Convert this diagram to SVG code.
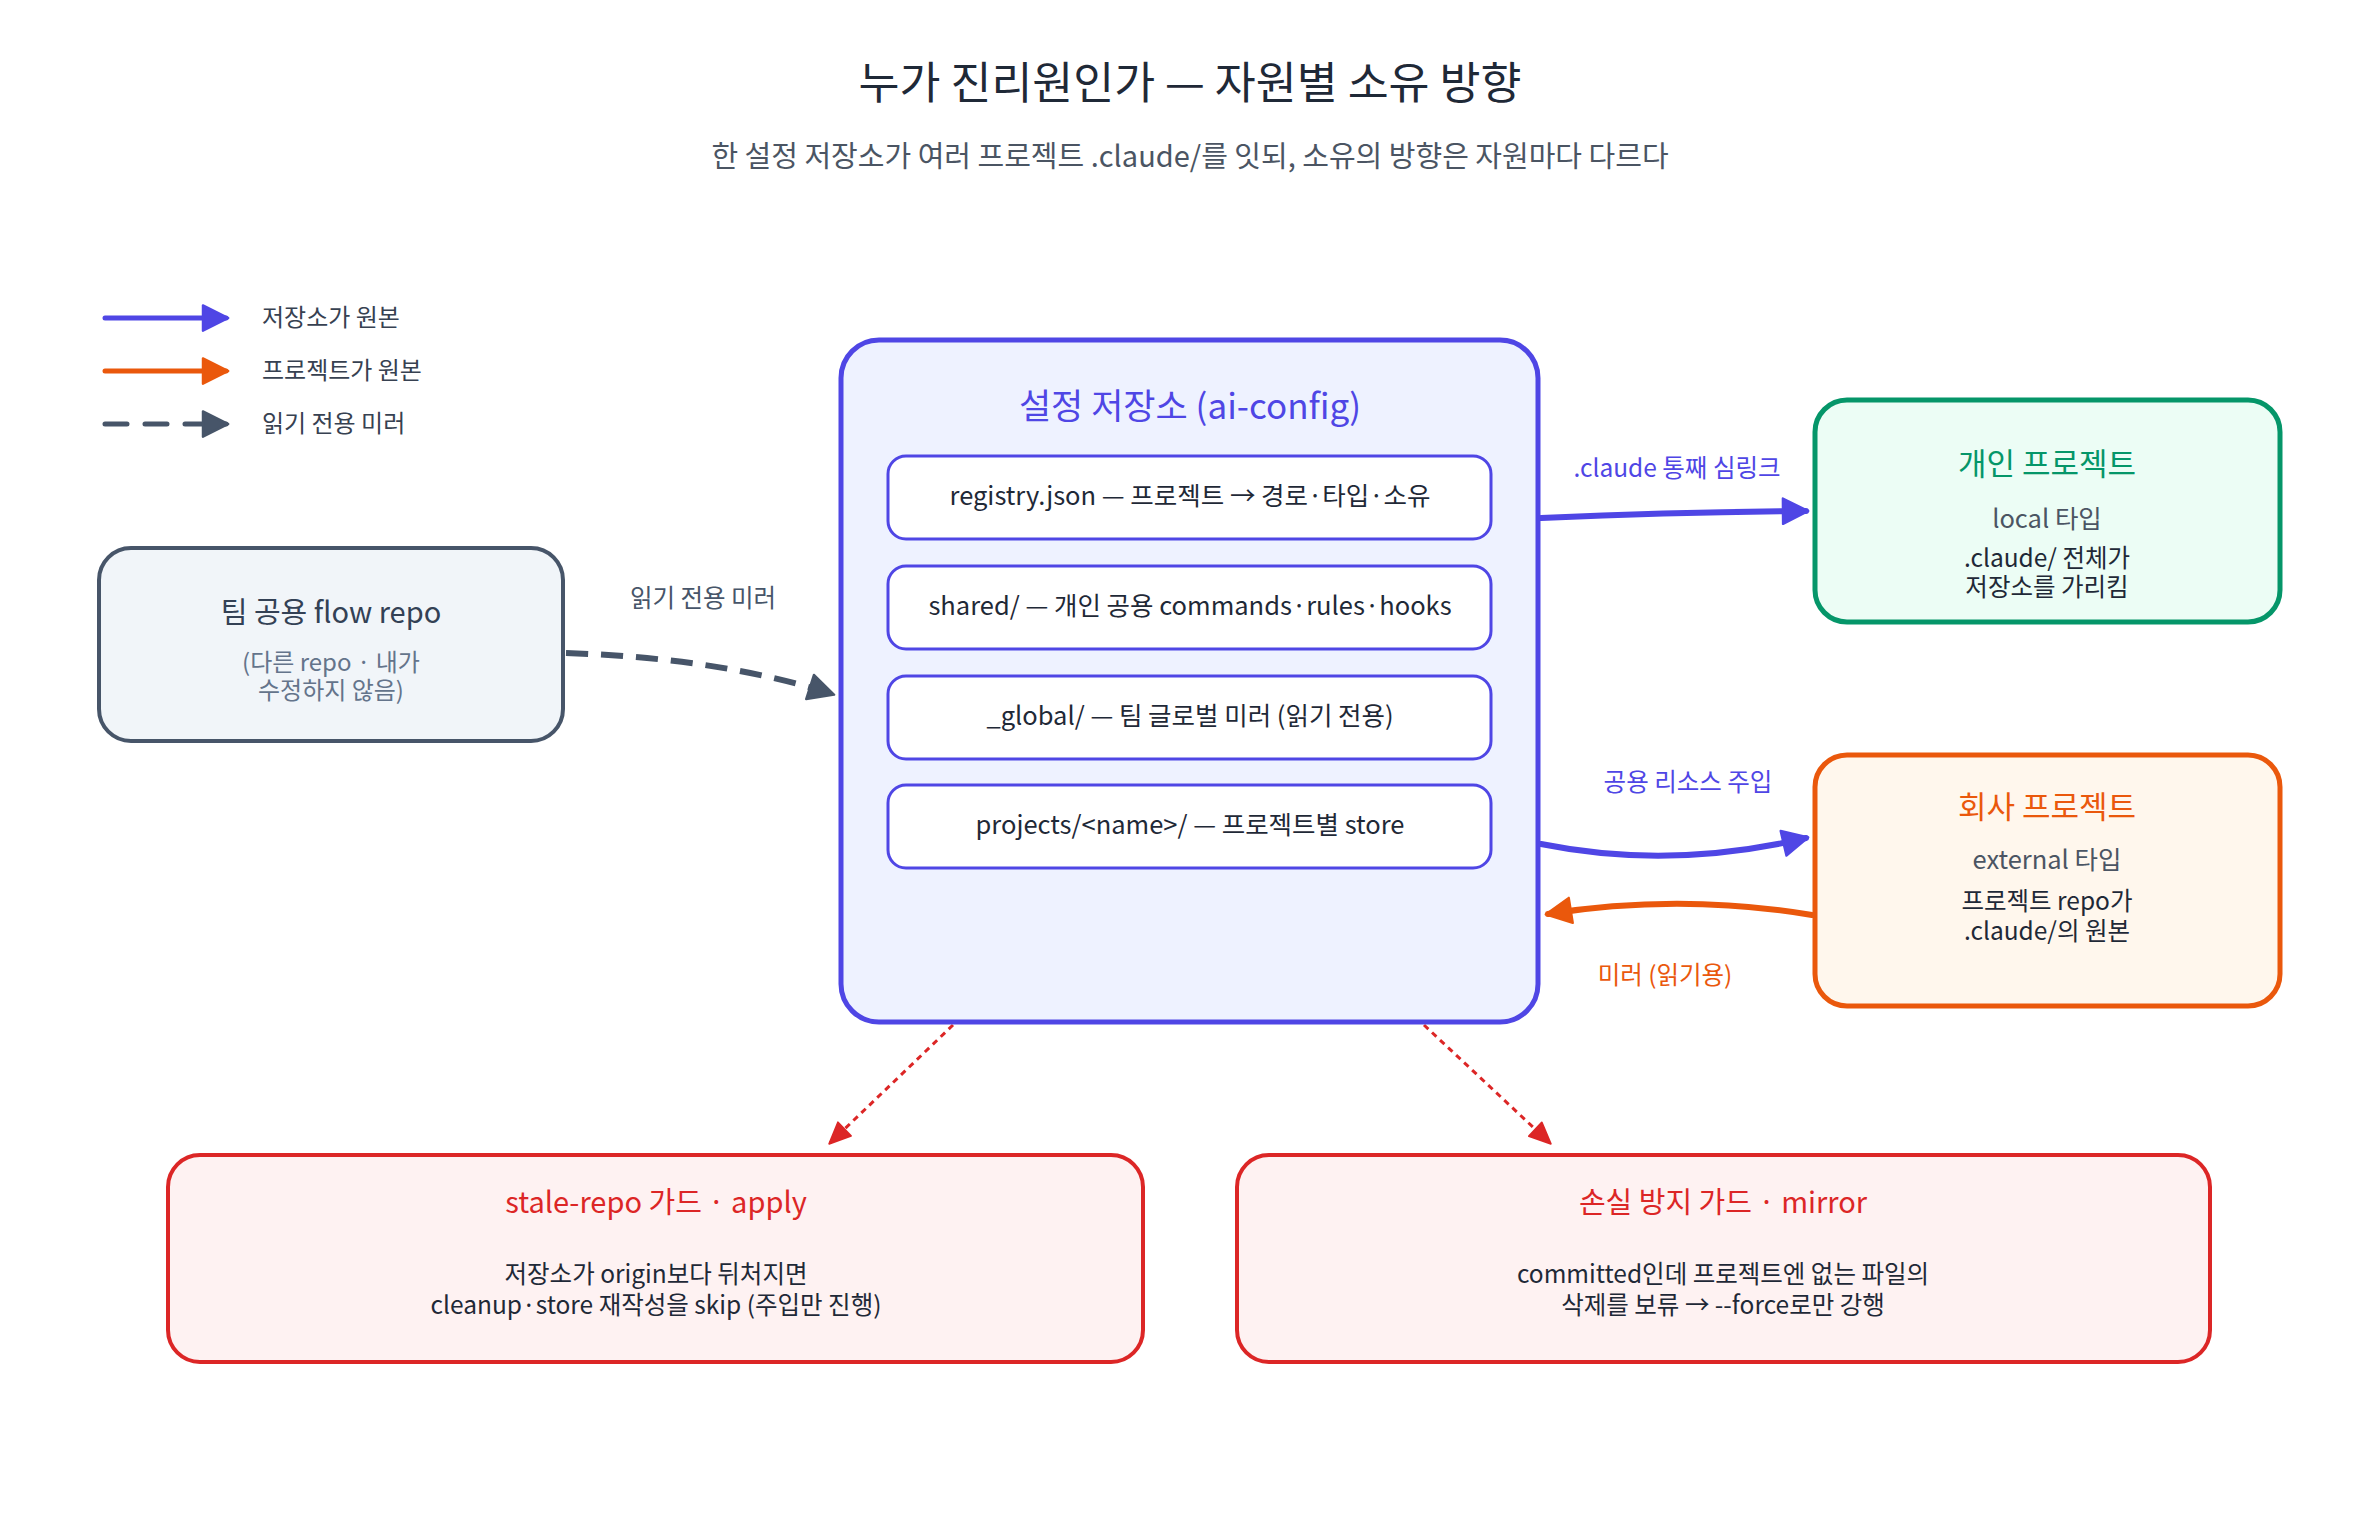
<svg xmlns="http://www.w3.org/2000/svg" width="2380" height="1540" viewBox="0 0 2380 1540">
<style>
text{font-family:"Noto Sans CJK KR","Noto Sans",sans-serif;text-anchor:middle}
.title{font-size:44.5px;fill:#1f2937;font-weight:400}
.sub{font-size:29px;fill:#4b5563}
.leg{font-size:24px;fill:#374151;text-anchor:start}
.ntitle{font-size:31px}
.body{font-size:24.5px;fill:#1f2937}
.gray{font-size:25.5px;fill:#4b5563}
.item{font-size:25.5px;fill:#1f2937}
.elab{font-size:24.5px}
</style>
<defs>
<marker id="ah-blue" markerUnits="userSpaceOnUse" markerWidth="30" markerHeight="30" viewBox="0 0 26 26" refX="22" refY="13" orient="auto"><path d="M2,2 L24,13 L2,24 z" fill="#4f46e5" stroke="#4f46e5" stroke-width="2" stroke-linejoin="round"/></marker>
<marker id="ah-orange" markerUnits="userSpaceOnUse" markerWidth="30" markerHeight="30" viewBox="0 0 26 26" refX="22" refY="13" orient="auto"><path d="M2,2 L24,13 L2,24 z" fill="#ea580c" stroke="#ea580c" stroke-width="2" stroke-linejoin="round"/></marker>
<marker id="ah-slate" markerUnits="userSpaceOnUse" markerWidth="30" markerHeight="30" viewBox="0 0 26 26" refX="22" refY="13" orient="auto"><path d="M2,2 L24,13 L2,24 z" fill="#475569" stroke="#475569" stroke-width="2" stroke-linejoin="round"/></marker>
<marker id="ah-red" markerUnits="userSpaceOnUse" markerWidth="26" markerHeight="26" viewBox="0 0 22 22" refX="19" refY="11" orient="auto"><path d="M2,3 L20,11 L2,19 z" fill="#dc2626" stroke="#dc2626" stroke-width="1.5" stroke-linejoin="round"/></marker>
</defs>
<rect width="2380" height="1540" fill="#ffffff"/>
<text class="title" x="1190" y="99">누가 진리원인가 — 자원별 소유 방향</text>
<text class="sub" x="1190" y="167">한 설정 저장소가 여러 프로젝트 .claude/를 잇되, 소유의 방향은 자원마다 다르다</text>
<g id="legend">
<line x1="105" y1="318" x2="226" y2="318" stroke="#4f46e5" stroke-width="5" stroke-linecap="round" marker-end="url(#ah-blue)"/>
<text class="leg" x="262" y="326">저장소가 원본</text>
<line x1="105" y1="371" x2="226" y2="371" stroke="#ea580c" stroke-width="5" stroke-linecap="round" marker-end="url(#ah-orange)"/>
<text class="leg" x="262" y="379">프로젝트가 원본</text>
<line x1="105" y1="424" x2="226" y2="424" stroke="#475569" stroke-width="5" stroke-linecap="round" stroke-dasharray="22 18" marker-end="url(#ah-slate)"/>
<text class="leg" x="262" y="432">읽기 전용 미러</text>
</g>
<g id="connectors" fill="none">
<path d="M566,653 Q720,658 832,694" stroke="#475569" stroke-width="6" stroke-dasharray="22 13" marker-end="url(#ah-slate)"/>
<text class="elab" x="703" y="607" fill="#475569" stroke="none">읽기 전용 미러</text>
<path d="M1541,518 Q1680,512 1806,511" stroke="#4f46e5" stroke-width="6" stroke-linecap="round" marker-end="url(#ah-blue)"/>
<text class="elab" x="1677" y="477" fill="#4f46e5" stroke="none">.claude 통째 심링크</text>
<path d="M1541,844 Q1670,870 1806,838" stroke="#4f46e5" stroke-width="6" stroke-linecap="round" marker-end="url(#ah-blue)"/>
<text class="elab" x="1688" y="791" fill="#4f46e5" stroke="none">공용 리소스 주입</text>
<path d="M1812,915 Q1680,893 1548,914" stroke="#ea580c" stroke-width="6" stroke-linecap="round" marker-end="url(#ah-orange)"/>
<text class="elab" x="1665" y="984" fill="#ea580c" stroke="none">미러 (읽기용)</text>
<path d="M953,1025 L830,1143" stroke="#dc2626" stroke-width="3" stroke-dasharray="6 5" marker-end="url(#ah-red)"/>
<path d="M1424,1025 L1550,1143" stroke="#dc2626" stroke-width="3" stroke-dasharray="6 5" marker-end="url(#ah-red)"/>
</g>
<g id="node-flow">
<rect x="99" y="548" width="464" height="193" rx="32" fill="#f1f5f9" stroke="#475569" stroke-width="4"/>
<text x="331" y="623" fill="#334155" style="font-size:29px">팀 공용 flow repo</text>
<text x="331" y="671" style="font-size:24px;fill:#64748b">(다른 repo · 내가</text>
<text x="331" y="699" style="font-size:24px;fill:#64748b">수정하지 않음)</text>
</g>
<g id="node-config">
<rect x="841" y="340" width="697" height="682" rx="38" fill="#eef2ff" stroke="#4f46e5" stroke-width="5"/>
<text x="1190" y="419" fill="#4f46e5" style="font-size:35px">설정 저장소 (ai-config)</text>
<g id="item-registry"><rect x="888" y="456" width="603" height="83" rx="18" fill="#ffffff" stroke="#4f46e5" stroke-width="3"/><text class="item" x="1190" y="505">registry.json — 프로젝트 → 경로·타입·소유</text></g>
<g id="item-shared"><rect x="888" y="566" width="603" height="83" rx="18" fill="#ffffff" stroke="#4f46e5" stroke-width="3"/><text class="item" x="1190" y="615">shared/ — 개인 공용 commands·rules·hooks</text></g>
<g id="item-global"><rect x="888" y="676" width="603" height="83" rx="18" fill="#ffffff" stroke="#4f46e5" stroke-width="3"/><text class="item" x="1190" y="725">_global/ — 팀 글로벌 미러 (읽기 전용)</text></g>
<g id="item-projects"><rect x="888" y="785" width="603" height="83" rx="18" fill="#ffffff" stroke="#4f46e5" stroke-width="3"/><text class="item" x="1190" y="834">projects/&lt;name&gt;/ — 프로젝트별 store</text></g>
</g>
<g id="node-personal">
<rect x="1815" y="400" width="465" height="222" rx="32" fill="#ecfdf5" stroke="#059669" stroke-width="5"/>
<text class="ntitle" x="2047" y="475" fill="#059669">개인 프로젝트</text>
<text class="gray" x="2047" y="528">local 타입</text>
<text class="body" x="2047" y="567">.claude/ 전체가</text>
<text class="body" x="2047" y="596">저장소를 가리킴</text>
</g>
<g id="node-company">
<rect x="1815" y="755" width="465" height="251" rx="32" fill="#fff7ed" stroke="#ea580c" stroke-width="5"/>
<text class="ntitle" x="2047" y="818" fill="#ea580c">회사 프로젝트</text>
<text class="gray" x="2047" y="869">external 타입</text>
<text class="body" x="2047" y="910">프로젝트 repo가</text>
<text class="body" x="2047" y="940">.claude/의 원본</text>
</g>
<g id="node-stale">
<rect x="168" y="1155" width="975" height="207" rx="32" fill="#fef2f2" stroke="#dc2626" stroke-width="4"/>
<text x="656" y="1213" fill="#dc2626" style="font-size:29px">stale-repo 가드 · apply</text>
<text class="body" x="656" y="1283">저장소가 origin보다 뒤처지면</text>
<text class="body" x="656" y="1314">cleanup·store 재작성을 skip (주입만 진행)</text>
</g>
<g id="node-loss">
<rect x="1237" y="1155" width="973" height="207" rx="32" fill="#fef2f2" stroke="#dc2626" stroke-width="4"/>
<text x="1723" y="1213" fill="#dc2626" style="font-size:29px">손실 방지 가드 · mirror</text>
<text class="body" x="1723" y="1283">committed인데 프로젝트엔 없는 파일의</text>
<text class="body" x="1723" y="1314">삭제를 보류 → --force로만 강행</text>
</g>
</svg>
